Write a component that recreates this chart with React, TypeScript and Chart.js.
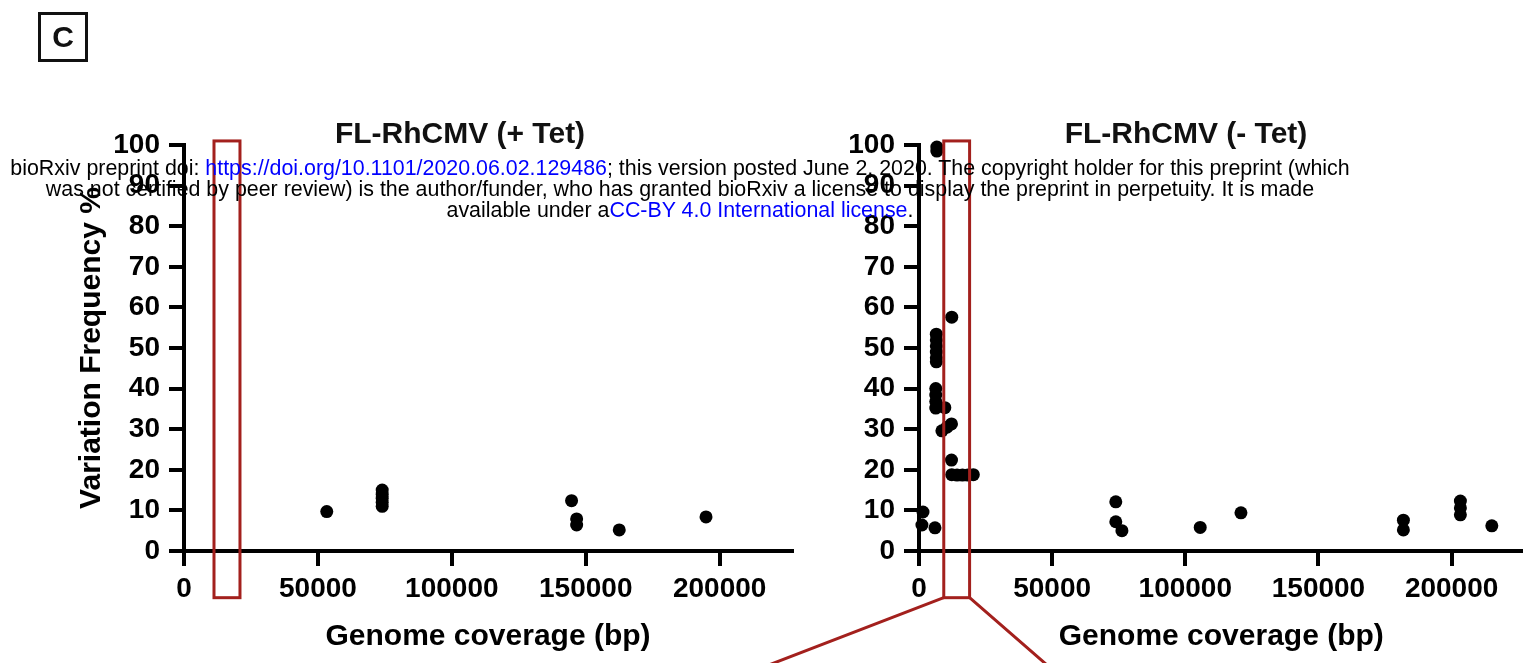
import React, { useEffect, useRef } from 'react';
import { Chart, registerables } from 'chart.js';

Chart.register(...registerables);

// ---------- data ----------
const X_TICKS = [0, 50000, 100000, 150000, 200000];
const Y_TICKS = [0, 10, 20, 30, 40, 50, 60, 70, 80, 90, 100];
const X_MAX = 227000;
const Y_MAX = 100;

const PLUS_TET_X = [53300, 74000, 74000, 74000, 74000, 74000, 144700, 146600, 146600, 162500, 194900];
const PLUS_TET_Y = [9.7, 15.0, 14.0, 13.0, 12.0, 11.0, 12.4, 7.9, 6.4, 5.2, 8.4];

const MINUS_TET_X = [
  6700, 6700,
  12300,
  6500, 6500, 6500, 6500, 6500, 6500,
  6300, 6300, 6300, 6300, 9700,
  12200, 10500, 8600,
  12200,
  12300, 14300, 16300, 18300, 20400,
  1500, 1100, 6000,
  73900, 73900, 76200,
  105600, 120900,
  181900, 181900,
  203300, 203300, 203300,
  215100,
];
const MINUS_TET_Y = [
  99.5, 98.5,
  57.6,
  53.4, 52.0, 50.5, 49.0, 47.6, 46.6,
  40.0, 38.4, 36.8, 35.2, 35.3,
  31.3, 30.5, 29.6,
  22.4,
  18.8, 18.7, 18.7, 18.7, 18.8,
  9.6, 6.4, 5.7,
  12.1, 7.2, 5.0,
  5.8, 9.4,
  7.6, 5.2,
  12.3, 10.6, 8.9,
  6.2,
];

const PLUS_TET_ZOOM = [11200, 20900];
const MINUS_TET_ZOOM = [9300, 19000];
const ZOOM_Y = [101, -11.5];

// ---------- style ----------
const FONT = "'Liberation Sans', Arial, Helvetica, sans-serif";
const RED = '#a3201d';

const zoomBoxPlugin = {
  id: 'zoomBox',
  afterDatasetsDraw(chart: any, _args: any, opts: any) {
    if (!opts || !opts.range) return;
    const { ctx } = chart;
    const xs = chart.scales.x;
    const ys = chart.scales.y;
    const x0 = xs.getPixelForValue(opts.range[0]);
    const x1 = xs.getPixelForValue(opts.range[1]);
    const yT = ys.getPixelForValue(opts.yRange[0]);
    const yB = ys.getPixelForValue(opts.yRange[1]);
    ctx.save();
    ctx.strokeStyle = opts.color;
    ctx.lineWidth = opts.lineWidth;
    ctx.strokeRect(x0, yT, x1 - x0, yB - yT);
    if (opts.connectors) {
      const h = chart.height - yB + 2;
      ctx.beginPath();
      ctx.moveTo(x0, yB);
      ctx.lineTo(x0 + opts.connectors[0] * h, yB + h);
      ctx.moveTo(x1, yB);
      ctx.lineTo(x1 + opts.connectors[1] * h, yB + h);
      ctx.stroke();
    }
    ctx.restore();
  },
};

function makeConfig(
  xs: number[],
  ys: number[],
  zoom: number[],
  yAxisWidth: number,
  padLeft: number,
  padRight: number,
  showYTitle: boolean,
  connectors: number[] | null
): any {
  const tickFont = { family: FONT, size: 28, weight: 'bold' as const };
  const titleFont = { family: FONT, size: 30, weight: 'bold' as const, lineHeight: 1.2 };
  const grid = {
    display: true,
    drawOnChartArea: false,
    drawTicks: true,
    tickLength: 15,
    tickWidth: 4,
    tickColor: '#000',
    color: '#000',
    lineWidth: 4,
  };
  const border = { display: true, color: '#000', width: 4 };
  return {
    type: 'scatter',
    data: {
      datasets: [
        {
          data: xs.map((x, i) => ({ x, y: ys[i] })),
          backgroundColor: '#000',
          borderColor: '#000',
          borderWidth: 0,
          pointRadius: 6.5,
          pointHoverRadius: 6.5,
          clip: false,
        },
      ],
    },
    options: {
      responsive: false,
      animation: false,
      devicePixelRatio: 1,
      layout: { padding: { left: padLeft, right: padRight, top: 145, bottom: 8 } },
      plugins: {
        legend: { display: false },
        tooltip: { enabled: false },
        zoomBox: {
          range: zoom,
          yRange: ZOOM_Y,
          color: RED,
          lineWidth: 3,
          connectors,
        },
      },
      scales: {
        x: {
          type: 'linear',
          min: 0,
          max: X_MAX,
          afterBuildTicks: (s: any) => {
            s.ticks = X_TICKS.map((v) => ({ value: v }));
          },
          afterFit: (s: any) => {
            s.height = 104;
          },
          ticks: {
            font: tickFont,
            color: '#000',
            padding: 6,
            maxRotation: 0,
            autoSkip: false,
            callback: (v: any) => String(v),
          },
          grid,
          border,
          title: {
            display: true,
            text: 'Genome coverage (bp)',
            font: titleFont,
            color: '#000',
            padding: 0,
          },
        },
        y: {
          type: 'linear',
          min: 0,
          max: Y_MAX,
          afterBuildTicks: (s: any) => {
            s.ticks = Y_TICKS.map((v) => ({ value: v }));
          },
          afterFit: (s: any) => {
            s.width = yAxisWidth;
          },
          ticks: {
            font: tickFont,
            color: '#000',
            padding: 9,
            autoSkip: false,
            callback: (v: any) => String(v),
          },
          grid,
          border,
          title: {
            display: showYTitle,
            text: 'Variation Frequency %',
            font: titleFont,
            color: '#000',
            padding: 0,
          },
        },
      },
    },
    plugins: [zoomBoxPlugin],
  };
}

function ScatterPanel(props: {
  left: number;
  width: number;
  config: () => any;
}) {
  const ref = useRef<HTMLCanvasElement | null>(null);
  useEffect(() => {
    if (!ref.current) return;
    const chart = new Chart(ref.current, props.config());
    return () => chart.destroy();
  }, []);
  return (
    <canvas
      ref={ref}
      width={props.width}
      height={663}
      style={{ position: 'absolute', left: props.left, top: 0, width: props.width, height: 663 }}
    />
  );
}

const titleStyle = (cx: number): React.CSSProperties => ({
  position: 'absolute',
  left: cx - 300,
  width: 600,
  top: 118,
  textAlign: 'center',
  fontFamily: FONT,
  fontWeight: 'bold',
  fontSize: 30,
  lineHeight: '30px',
  color: '#111',
  whiteSpace: 'nowrap',
});

export default function App() {
  useEffect(() => {
    document.body.style.margin = '0';
  }, []);
  const blue: React.CSSProperties = { color: '#0000ff' };
  return (
    <div
      style={{
        position: 'relative',
        width: 1523,
        height: 663,
        overflow: 'hidden',
        background: '#fff',
      }}
    >
      <ScatterPanel
        left={0}
        width={800}
        config={() =>
          makeConfig(PLUS_TET_X, PLUS_TET_Y, PLUS_TET_ZOOM, 110, 74, 8, true, null)
        }
      />
      <ScatterPanel
        left={760}
        width={770}
        config={() =>
          makeConfig(MINUS_TET_X, MINUS_TET_Y, MINUS_TET_ZOOM, 159, 0, 3, false, [-2.6, 1.15])
        }
      />
      <div style={titleStyle(460)}>FL-RhCMV (+ Tet)</div>
      <div style={titleStyle(1186)}>FL-RhCMV (- Tet)</div>
      <div
        style={{
          position: 'absolute',
          left: 38,
          top: 12,
          width: 50,
          height: 50,
          boxSizing: 'border-box',
          border: '3px solid #111',
          fontFamily: FONT,
          fontWeight: 'bold',
          fontSize: 30,
          lineHeight: '44px',
          textAlign: 'center',
          color: '#111',
        }}
      >
        C
      </div>
      <div
        style={{
          position: 'absolute',
          left: 0,
          width: 1360,
          top: 158,
          textAlign: 'center',
          fontFamily: FONT,
          fontSize: 21.4,
          lineHeight: '21px',
          color: '#000',
          whiteSpace: 'nowrap',
        }}
      >
        bioRxiv preprint doi: <span style={blue}>https://doi.org/10.1101/2020.06.02.129486</span>; this version posted June 2, 2020. The copyright holder for this preprint (which
        <br />
        was not certified by peer review) is the author/funder, who has granted bioRxiv a license to display the preprint in perpetuity. It is made
        <br />
        available under a<span style={blue}>CC-BY 4.0 International license</span>.
      </div>
    </div>
  );
}
